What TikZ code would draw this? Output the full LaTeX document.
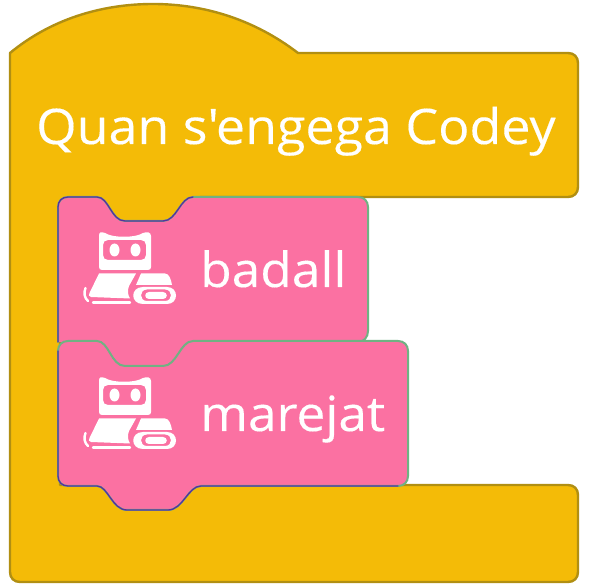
\documentclass[tikz,border=0pt]{standalone}
\usepackage{fontspec}
\newfontfamily\blockfont[FakeStretch=1.06,FakeBold=0.25]{Open Sans}
\definecolor{hat}{HTML}{F4BB07}
\definecolor{hatline}{HTML}{B18F12}
\definecolor{blockpink}{HTML}{FB71A2}
\definecolor{edgegreen}{HTML}{6FB283}
\definecolor{edgepurple}{HTML}{5A2EA0}
\tikzset{
  hatblock/.style={fill=hat,draw=hatline,line width=2.4pt,line join=round},
  pinkfill/.style={fill=blockpink,draw=none},
  greenedge/.style={draw=edgegreen,line width=2pt,line cap=round},
  purpleedge/.style={draw=edgepurple,line width=1.3pt,line cap=round},
  iconwhite/.style={fill=white,draw=none},
  icontrace/.style={draw=white,line width=2.4pt,fill=none,line cap=round},
  label/.style={text=white,inner sep=0pt,anchor=base west},
}
\newcommand{\codeyicon}[2]{%
\begin{scope}[shift={(#1,#2)}]
  % head with ears and face window
  \fill[iconwhite,even odd rule]
    (99,236) .. controls (99,232) and (101,231.5) .. (105,233)
    .. controls (112,238) and (136,238) .. (143,233)
    .. controls (147,231.5) and (151,232) .. (151,236)
    -- (151,267) .. controls (151,269) and (150,270) .. (148,270)
    -- (102,270) .. controls (100,270) and (99,269) .. (99,267) -- cycle
    (108,240) .. controls (105,240) and (103,242) .. (103,245)
    -- (103,255) .. controls (103,258) and (105,260) .. (108,260)
    -- (141,260) .. controls (144,260) and (146,258) .. (146,255)
    -- (146,245) .. controls (146,242) and (144,240) .. (141,240) -- cycle;
  \fill[iconwhite] (114.5,250) ellipse (5pt and 6.5pt);
  \fill[iconwhite] (135.5,250) ellipse (5pt and 6.5pt);
  % body
  \fill[iconwhite] (99,273.5) -- (136,273.5) -- (129,286) .. controls (127,291) and (128,295) .. (130,298.5)
    -- (91,297) .. controls (88.5,296.5) and (88.5,295) .. (89.5,293) -- cycle;
  \fill[iconwhite] (141,273.5) -- (165,273.5) .. controls (169,273.5) and (171,279) .. (172,285)
    -- (136,285) -- cycle;
  \draw[icontrace] (85.5,288) .. controls (83.5,293) and (84.5,298) .. (88,301);
  \draw[icontrace] (93,302.5) -- (130,302.5);
  % tread
  \fill[iconwhite,even odd rule]
    (143,287) -- (167,287) .. controls (179,287) and (179,304) .. (167,304)
    -- (143,304) .. controls (130,304) and (130,287) .. (143,287) -- cycle
    (147,289.5) .. controls (139,289.5) and (139,301) .. (147,301)
    -- (165,301) .. controls (173,301) and (173,289.5) .. (165,289.5) -- cycle;
  \fill[iconwhite] (149,292) -- (163,292) .. controls (168,292) and (168,299) .. (163,299)
    -- (149,299) .. controls (144,299) and (144,292) .. (149,292) -- cycle;
\end{scope}}
\begin{document}
\begin{tikzpicture}[x=1pt,y=-1pt]
\useasboundingbox (0,0) rectangle (590,588);
\fill[white] (0,0) rectangle (590,588);
% hat block
\path[hatblock] (10,53) .. controls (50,20) and (100,4) .. (153,4)
  .. controls (205,4) and (255,20) .. (298,53)
  -- (568,53) .. controls (574,53) and (578,57) .. (578,63)
  -- (578,187) .. controls (578,193) and (574,197) .. (568,197)
  -- (60,197) -- (60,485)
  -- (568,485) .. controls (574,485) and (578,489) .. (578,495)
  -- (578,572) .. controls (578,578) and (574,582) .. (568,582)
  -- (20,582) .. controls (14,582) and (10,578) .. (10,572) -- cycle;
\fill[hat] (58,194) rectangle (200,230);
\node[label,font=\blockfont\fontsize{49}{49}\selectfont] (title) at (36,144) {Quan s'engega Codey};
% first stack block
\path[pinkfill] (58,207) .. controls (58,201) and (62,197) .. (68,197)
  -- (97,197) .. controls (109,197) and (111,221) .. (125,221)
  -- (163,221) .. controls (177,221) and (180,197) .. (193,197)
  -- (358,197) .. controls (364,197) and (368,201) .. (368,207)
  -- (368,331) .. controls (368,337) and (364,342) .. (358,342)
  -- (193,342) -- (165,370) -- (125,370) -- (98,342) -- (58,342) -- cycle;
\draw[greenedge] (58,342) -- (58,207) .. controls (58,201) and (62,197) .. (68,197)
  -- (97,197) .. controls (109,197) and (111,221) .. (125,221)
  -- (163,221) .. controls (177,221) and (180,197) .. (193,197)
  -- (358,197) .. controls (364,197) and (368,201) .. (368,207)
  -- (368,331) .. controls (368,337) and (364,342) .. (358,342);
\draw[purpleedge] (58,342) -- (58,207) .. controls (58,201) and (62,197) .. (68,197)
  -- (97,197) .. controls (109,197) and (111,221) .. (125,221)
  -- (163,221) .. controls (177,221) and (180,197) .. (193,197);
% second stack block
\path[pinkfill] (58,351) .. controls (58,345) and (62,341) .. (68,341)
  -- (97,341) .. controls (109,341) and (111,366) .. (125,366)
  -- (163,366) .. controls (177,366) and (180,341) .. (193,341)
  -- (398,341) .. controls (404,341) and (408,345) .. (408,351)
  -- (408,476) .. controls (408,482) and (404,486) .. (398,486)
  -- (201,486) .. controls (188,486) and (183,510) .. (168,510)
  -- (127,510) .. controls (112,510) and (108,486) .. (97,486)
  -- (68,486) .. controls (62,486) and (58,482) .. (58,476) -- cycle;
\fill[blockpink] (100,341) -- (190,341) -- (165,372) -- (125,372) -- cycle;
\draw[greenedge] (58,351) .. controls (58,345) and (62,341) .. (68,341)
  -- (97,341) .. controls (109,341) and (111,366) .. (125,366)
  -- (163,366) .. controls (177,366) and (180,341) .. (193,341)
  -- (398,341) .. controls (404,341) and (408,345) .. (408,351)
  -- (408,476) .. controls (408,482) and (404,486) .. (398,486);
\draw[greenedge] (58,351) -- (58,476) .. controls (58,482) and (62,486) .. (68,486)
  -- (97,486) .. controls (108,486) and (112,510) .. (127,510)
  -- (168,510) .. controls (183,510) and (188,486) .. (201,486) -- (398,486);
\draw[purpleedge] (58,351) -- (58,476) .. controls (58,482) and (62,486) .. (68,486)
  -- (97,486) .. controls (108,486) and (112,510) .. (127,510)
  -- (168,510) .. controls (183,510) and (188,486) .. (201,486) -- (398,486);
\codeyicon{0}{0}
\codeyicon{0}{145}
\node[label,font=\blockfont\fontsize{48.5}{48.5}\selectfont] (badall) at (200,287) {badall};
\node[label,font=\blockfont\fontsize{48.5}{48.5}\selectfont] (marejat) at (200,431) {marejat};
\end{tikzpicture}
\end{document}
